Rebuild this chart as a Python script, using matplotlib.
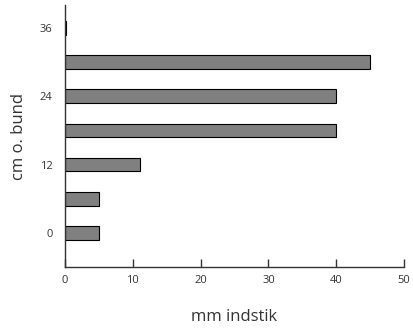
import matplotlib.pyplot as plt

# depth (cm above bottom) and penetration (mm)
depth = [0, 6, 12, 18, 24, 30, 36]
indstik = [5, 5, 11, 40, 40, 45, 0.15]
yticks = [0, 12, 24, 36]
xticks = [0, 10, 20, 30, 40, 50]

plt.rcParams['font.family'] = ['Open Sans', 'DejaVu Sans']

fig = plt.figure(figsize=(4.14, 3.29), dpi=100)
ax = fig.add_axes([0.157, 0.188, 0.819, 0.797])
ax.barh(depth, indstik, height=2.4, color='#808080', edgecolor='black', linewidth=0.8)

ax.set_xlim(0, 50)
ax.set_ylim(-6, 40)
ax.set_xticks(xticks)
ax.set_yticks(yticks)
for s in ['top', 'right']:
    ax.spines[s].set_visible(False)
for s in ['left', 'bottom']:
    ax.spines[s].set_color('#333333')
    ax.spines[s].set_linewidth(1.0)
ax.tick_params(axis='x', direction='in', length=6, width=1, colors='#333333', labelsize=8, pad=6)
ax.tick_params(axis='y', length=0, colors='#333333', labelsize=8, pad=9)
ax.set_xlabel('mm indstik', fontsize=12, color='#333333', labelpad=16)
ax.set_ylabel('cm o. bund', fontsize=12, color='#333333', labelpad=9)

fig.savefig('out.png', dpi=100)
